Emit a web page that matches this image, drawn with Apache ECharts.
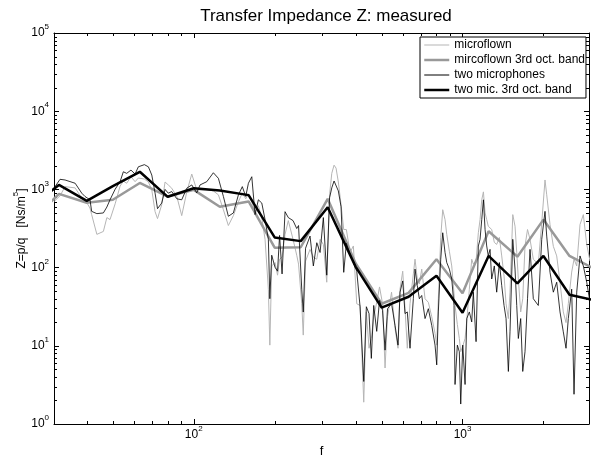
<!DOCTYPE html>
<html>
<head>
<meta charset="utf-8">
<script src="https://cdn.jsdelivr.net/npm/echarts@6/dist/echarts.min.js"></script>
<style>
  html, body { margin: 0; padding: 0; background: #fff; }
  #chart { width: 594px; height: 459px; }
</style>
</head>
<body>
<div id="chart"></div>
<script>
// narrow-band frequency grid shared by both measurements (Hz)
const freqs = [
  30.2, 31.8, 33.2, 36.2, 38.3, 39.4, 41.1, 41.7, 43.6, 46.1,
  47.5, 48.8, 51.0, 53.2, 54.7, 56.3, 58.4, 60.5, 62.2, 65.5,
  67.8, 69.8, 71.8, 73.3, 76.0, 78.2, 80.4, 82.8, 86.5, 90.2,
  94.2, 98.3, 102.6, 105.5, 111.8, 118.3, 123.5, 128.9, 134.5, 140.4,
  146.6, 151.6, 156.1, 159.7, 164.4, 169.1, 173.9, 179.1, 184.2, 189.5,
  191.9, 195.0, 200.6, 205.0, 208.6, 213.1, 218.6, 224.8, 234.1, 241.6,
  245.4, 252.2, 255.5, 260.6, 270.8, 278.6, 286.9, 295.1, 303.5, 312.5,
  320.1, 326.2, 332.7, 338.4, 345.1, 353.2, 361.4, 369.6, 381.5, 392.5,
  404.1, 415.7, 429.0, 438.7, 448.9, 457.8, 467.3, 479.5, 491.1, 504.0,
  514.9, 526.0, 544.4, 561.0, 575.4, 585.4, 599.1, 611.0, 623.1, 637.7,
  656.1, 665.7, 678.9, 690.7, 705.0, 725.3, 746.1, 768.1, 790.2, 801.7,
  812.8, 829.6, 844, 860.9, 873.5, 893.2, 911.7, 929.9, 937.9, 956.6,
  972.9, 984.7, 1002, 1022, 1037, 1060, 1082, 1097, 1123, 1145,
  1162, 1179, 1196, 1213, 1230, 1247, 1266, 1284, 1313, 1340,
  1371, 1399, 1427, 1452, 1481, 1502, 1538, 1568, 1591, 1613,
  1646, 1675, 1708, 1745, 1783, 1834, 1914, 1971, 2027, 2057,
  2116, 2177, 2241, 2305, 2371, 2427, 2475, 2548, 2599, 2660,
  2736, 2815, 2898, 2981
]

const microflown = [
  701, 827, 1085, 1045, 774, 736, 578, 476, 266, 290,
  436, 411, 655, 1100, 1281, 1198, 1452, 1255, 1398, 1358,
  1244, 986, 519, 423, 637, 1244, 1140, 1036, 811, 462,
  930, 1571, 986, 986, 986, 957, 852, 550, 345, 462,
  695, 903, 758, 877, 695, 519, 618, 436, 230, 53,
  10.2, 105, 116, 80, 128, 136, 266, 399, 230, 144,
  111, 34.5, 13.7, 121, 171, 136, 128, 230, 198, 65,
  852, 1604, 2042, 1872, 1244, 637, 307, 307, 156, 189,
  34.5, 32.8, 1.9, 27.1, 9.3, 12.4, 23.6, 36, 56.6, 34.5,
  5.2, 23.6, 48.5, 16.6, 9.3, 53, 90, 29.8, 9.3, 34.5,
  83, 128, 71.5, 61.8, 95.7, 40, 36, 23.6, 14.4, 10.2,
  40, 243, 550, 411, 266, 162, 105, 46.2, 32.8, 18.7,
  12.4, 8.4, 9.9, 12.4, 21, 53, 128, 111, 121, 279,
  411, 736, 930, 500, 411, 338, 326, 307, 210, 198,
  243, 141, 78, 34.5, 22.3, 48.5, 476, 338, 157, 71.5,
  27.1, 40, 189, 307, 230, 128, 111, 373, 1320, 852,
  355, 187, 141, 65, 27.1, 19.8, 34.5, 87.7, 128, 105,
  355, 476, 198, 121
]

const twoMics = [
  1036, 1346, 1319, 1198, 895, 811, 736, 524, 490, 500,
  595, 736, 1006, 1255, 1680, 1604, 1766, 1571, 1944, 2073,
  1944, 1526, 895, 567, 669, 1000, 895, 938, 758, 736,
  1036, 1140, 903, 1140, 1255, 1632, 1386, 811, 453, 500,
  852, 1085, 811, 1198, 1452, 476, 736, 669, 411, 230,
  40, 144, 101, 90, 258, 83, 519, 436, 399, 316,
  345, 53, 27, 177, 253, 105, 208, 156, 436, 80,
  780, 1045, 1281, 1209, 957, 600, 87, 204, 148, 116,
  90, 31.6, 3.5, 31.6, 25.8, 6.9, 32.8, 15.3, 38, 28.4,
  8.8, 29.8, 34.5, 18.2, 10.2, 48.5, 67.5, 25.8, 27.1, 9.3,
  40, 95.7, 58.8, 40, 44, 22.3, 29.8, 18.3, 10.2, 5.7,
  27.1, 128, 279, 156, 116, 95.7, 71.5, 32.8, 3.2, 10.2,
  8.4, 1.8, 10.2, 3.2, 22.3, 27.1, 20.2, 48.5, 11.3, 189,
  230, 411, 736, 307, 189, 141, 171, 71.5, 105, 48.5,
  116, 58.8, 32.8, 22.3, 4.7, 15.1, 230, 95.7, 32.8, 12.4,
  22.3, 4.7, 8.4, 40, 171, 40, 32.8, 230, 524, 253,
  87, 48.5, 65, 27.1, 15.1, 9.3, 22.3, 53, 2.4, 48.5,
  141, 105, 65, 36
]

// third octave band centres
const bandFreqs = [25, 31.5, 40, 50, 63, 80, 100, 125, 160, 200, 250, 315, 400, 500, 630, 800, 1000, 1250, 1600, 2000, 2500, 3150]
const microflownBand = [400, 877, 674, 736, 1208, 811, 986, 600, 701, 180, 182, 758, 114, 34.5, 47.5, 128, 46.9, 292, 138, 411, 141, 93]
const twoMicsBand = [617, 1140, 714, 1100, 1680, 804, 1035, 966, 845, 243, 218, 592, 103, 30.7, 42.4, 78.7, 26.5, 141, 62.7, 141, 45, 37.7]

const seriesNames = ['microflown', 'mircoflown 3rd oct. band', 'two microphones', 'two mic. 3rd oct. band']
const xRange = [30.2, 2955]
const yRange = [1, 100000]
const minorSteps = [2, 3, 4, 5, 6, 7, 8, 9]
const xDecades = [10, 100, 1000]
const yDecades = [1, 10, 100, 1000, 10000]

const FONT = 'Liberation Sans'

const pairs = (xs, ys) => xs.map((x, i) => [x, ys[i]])

const xMinor = []
xDecades.forEach(d => minorSteps.forEach(k => {
  const v = k * d
  if (v > xRange[0] && v < xRange[1]) xMinor.push([v, yRange[0]])
}))
const yMinor = []
yDecades.forEach(d => minorSteps.forEach(k => yMinor.push([xRange[0], k * d])))

const powerLabel = v => {
  const lg = Math.log10(v)
  const e = Math.round(lg)
  if (Math.abs(lg - e) > 1e-6) return ''
  return '{b|10}{sup|' + e + '}'
}

const supStyle = { fontSize: 8, lineHeight: 8, padding: [0, 0, 12, 0], color: '#000', fontFamily: FONT }
const labelRich = {
  b: { fontSize: 12, lineHeight: 14, color: '#000', fontFamily: FONT },
  sup: supStyle
}

const tickLine = (x1, y1, x2, y2) => ({
  type: 'line',
  shape: { x1, y1, x2, y2 },
  style: { stroke: '#000', lineWidth: 1 }
})

const MINOR = 3

const renderXMinor = (params, api) => {
  const v = api.value(0)
  const b = api.coord([v, yRange[0]])
  const t = api.coord([v, yRange[1]])
  const x = Math.round(b[0]) + 0.5
  return {
    type: 'group',
    children: [tickLine(x, b[1], x, b[1] - MINOR), tickLine(x, t[1], x, t[1] + MINOR)]
  }
}

const renderYMinor = (params, api) => {
  const v = api.value(1)
  const l = api.coord([xRange[0], v])
  const r = api.coord([xRange[1], v])
  const y = Math.round(l[1]) + 0.5
  return {
    type: 'group',
    children: [tickLine(l[0], y, l[0] + MINOR, y), tickLine(r[0], y, r[0] - MINOR, y)]
  }
}

const axisLine = { show: true, lineStyle: { color: '#000', width: 1 } }
const axisTick = { show: true, inside: true, length: 5, lineStyle: { color: '#000', width: 1 } }

const chart = echarts.init(document.getElementById('chart'))

chart.setOption({
  animation: false,
  backgroundColor: '#fff',
  title: {
    text: 'Transfer Impedance Z: measured',
    left: 321,
    top: 3,
    textAlign: 'center',
    textStyle: { fontSize: 17, fontWeight: 'normal', color: '#000', fontFamily: FONT }
  },
  grid: { left: 54, right: 5, top: 33, bottom: 35, outerBoundsMode: 'none', containLabel: false },
  legend: {
    orient: 'vertical',
    left: 420,
    top: 37,
    padding: [2, 1, 2, 3],
    itemWidth: 25,
    itemHeight: 12,
    itemGap: 3,
    borderColor: '#000',
    borderWidth: 1,
    borderRadius: 0,
    backgroundColor: '#fff',
    textStyle: { fontSize: 12, color: '#000', fontFamily: FONT },
    data: [
      { name: seriesNames[0], lineStyle: { width: 1 }, itemStyle: { opacity: 0 } },
      { name: seriesNames[1], lineStyle: { width: 2.5 }, itemStyle: { opacity: 0 } },
      { name: seriesNames[2], lineStyle: { width: 1 }, itemStyle: { opacity: 0 } },
      { name: seriesNames[3], lineStyle: { width: 2.5 }, itemStyle: { opacity: 0 } }
    ]
  },
  xAxis: [
    {
      type: 'log',
      min: xRange[0],
      max: xRange[1],
      position: 'bottom',
      axisLine,
      axisTick,
      splitLine: { show: false },
      axisLabel: { formatter: powerLabel, rich: labelRich, margin: 4, color: '#000' },
      name: 'f',
      nameLocation: 'middle',
      nameGap: 21,
      nameMoveOverlap: false,
      nameTextStyle: { fontSize: 13, color: '#000', fontFamily: FONT }
    },
    {
      type: 'log',
      min: xRange[0],
      max: xRange[1],
      position: 'top',
      axisLine,
      axisTick,
      splitLine: { show: false },
      axisLabel: { show: false }
    }
  ],
  yAxis: [
    {
      type: 'log',
      min: yRange[0],
      max: yRange[1],
      position: 'left',
      axisLine,
      axisTick,
      splitLine: { show: false },
      axisLabel: { formatter: powerLabel, rich: labelRich, margin: 5, color: '#000' },
      name: 'Z=p/q   [Ns/m{sup|5}]',
      nameLocation: 'middle',
      nameGap: 26,
      nameMoveOverlap: false,
      nameRotate: 90,
      nameTextStyle: {
        fontSize: 12,
        color: '#000',
        fontFamily: FONT,
        rich: { sup: supStyle }
      }
    },
    {
      type: 'log',
      min: yRange[0],
      max: yRange[1],
      position: 'right',
      axisLine,
      axisTick,
      splitLine: { show: false },
      axisLabel: { show: false }
    }
  ],
  series: [
    {
      name: seriesNames[0],
      type: 'line',
      data: pairs(freqs, microflown),
      symbol: 'none',
      lineStyle: { color: '#b5b5b5', width: 1 },
      itemStyle: { color: '#b5b5b5' }
    },
    {
      name: seriesNames[1],
      type: 'line',
      data: pairs(bandFreqs, microflownBand),
      symbol: 'none',
      lineStyle: { color: '#999999', width: 2.5 },
      itemStyle: { color: '#999999' }
    },
    {
      name: seriesNames[2],
      type: 'line',
      data: pairs(freqs, twoMics),
      symbol: 'none',
      lineStyle: { color: '#000', width: 0.8 },
      itemStyle: { color: '#000' }
    },
    {
      name: seriesNames[3],
      type: 'line',
      data: pairs(bandFreqs, twoMicsBand),
      symbol: 'none',
      lineStyle: { color: '#000', width: 2.5 },
      itemStyle: { color: '#000' }
    },
    {
      name: 'xMinorTicks',
      type: 'custom',
      renderItem: renderXMinor,
      data: xMinor,
      silent: true,
      clip: false
    },
    {
      name: 'yMinorTicks',
      type: 'custom',
      renderItem: renderYMinor,
      data: yMinor,
      silent: true,
      clip: false
    }
  ]
})
</script>
</body>
</html>
